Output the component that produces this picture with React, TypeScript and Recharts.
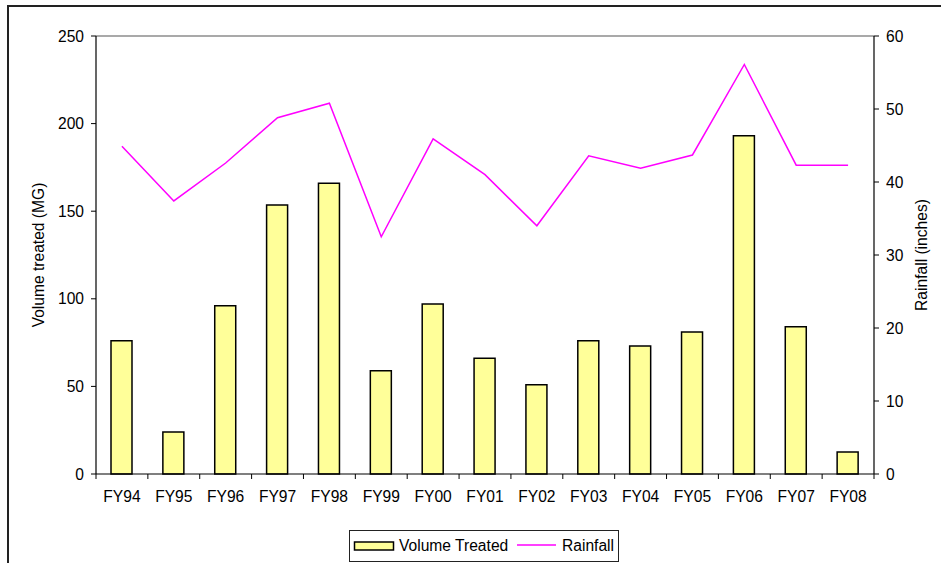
import React from 'react';
import { ComposedChart, Bar, Line, XAxis, YAxis, ReferenceLine } from 'recharts';

const categories = ['FY94', 'FY95', 'FY96', 'FY97', 'FY98', 'FY99', 'FY00', 'FY01', 'FY02', 'FY03', 'FY04', 'FY05', 'FY06', 'FY07', 'FY08'];
const volumeTreated = [76, 24, 96, 153.5, 166, 59, 97, 66, 51, 76, 73, 81, 193, 84, 12.5];
const rainfall = [44.9, 37.4, 42.6, 48.8, 50.8, 32.5, 45.9, 41, 34, 43.6, 41.9, 43.7, 56.1, 42.3, 42.3];
const leftTicks = [0, 50, 100, 150, 200, 250];
const rightTicks = [0, 10, 20, 30, 40, 50, 60];
const seriesNames = ['Volume Treated', 'Rainfall'];
const axisTitles = ['Volume treated (MG)', 'Rainfall (inches)'];

const data = categories.map((c, i) => ({ name: c, volume: volumeTreated[i], rain: rainfall[i] }));

const FONT = '"Liberation Sans", Arial, sans-serif';
const FS = 15.6;
const BAR_FILL = '#FFFF99';
const LINE_COLOR = '#FF00FF';

const XTick = (props: any) => {
  const { x, y, payload, index, width } = props;
  const half = payload && typeof payload.offset === 'number' && payload.offset > 0 ? payload.offset : width / (categories.length * 2);
  return (
    <g>
      <line x1={x - half} y1={y} x2={x - half} y2={y + 5} stroke="#000" strokeWidth={1} />
      {index === categories.length - 1 && (
        <line x1={x + half} y1={y} x2={x + half} y2={y + 5} stroke="#000" strokeWidth={1} />
      )}
      <text x={x} y={y + 28} textAnchor="middle" fontFamily={FONT} fontSize={FS} fill="#000">
        {payload.value}
      </text>
    </g>
  );
};

export default function App() {
  return (
    <div style={{ position: 'absolute', left: 0, top: 0, width: 941, height: 563, overflow: 'hidden', background: '#fff' }}>
      <div style={{ position: 'absolute', left: 7, top: 5, width: 1000, height: 700, borderLeft: '2px solid #222', borderTop: '2px solid #222' }} />
      <div style={{ position: 'absolute', left: 0, top: 0 }}>
        <ComposedChart width={941} height={563} data={data} margin={{ top: 36, right: 7, left: 36, bottom: 59 }}>
          <XAxis
            dataKey="name"
            xAxisId="x"
            height={30}
            interval={0}
            tickSize={0}
            tickMargin={0}
            tickLine={false}
            axisLine={{ stroke: '#000', strokeWidth: 1.2 }}
            tick={<XTick />}
          />
          <YAxis
            yAxisId="left"
            orientation="left"
            width={60}
            domain={[0, 250]}
            ticks={leftTicks}
            interval={0}
            tickSize={5}
            tickMargin={7}
            axisLine={{ stroke: '#000', strokeWidth: 1.2 }}
            tickLine={{ stroke: '#000' }}
            tick={{ fontFamily: FONT, fontSize: FS, fill: '#000' }}
            label={(p: any) => {
              const vb = p.viewBox || {};
              const cx = vb.x + 2;
              const cy = vb.y + vb.height / 2;
              return (
                <text x={cx} y={cy} transform={`rotate(-90 ${cx} ${cy})`} textAnchor="middle" dominantBaseline="central" fontFamily={FONT} fontSize={FS} fill="#000">
                  {axisTitles[0]}
                </text>
              );
            }}
          />
          <YAxis
            yAxisId="right"
            orientation="right"
            width={60}
            domain={[0, 60]}
            ticks={rightTicks}
            interval={0}
            tickSize={5}
            tickMargin={7}
            axisLine={{ stroke: '#000', strokeWidth: 1.2 }}
            tickLine={{ stroke: '#000' }}
            tick={{ fontFamily: FONT, fontSize: FS, fill: '#000' }}
            label={(p: any) => {
              const vb = p.viewBox || {};
              const cx = vb.x + 47;
              const cy = vb.y + vb.height / 2;
              return (
                <text x={cx} y={cy} transform={`rotate(-90 ${cx} ${cy})`} textAnchor="middle" dominantBaseline="central" fontFamily={FONT} fontSize={FS} fill="#000">
                  {axisTitles[1]}
                </text>
              );
            }}
          />
          <ReferenceLine yAxisId="left" xAxisId="x" y={250} stroke="#555" strokeWidth={1.2} />
          <Bar xAxisId="x" yAxisId="left" dataKey="volume" name={seriesNames[0]} fill={BAR_FILL} stroke="#000" strokeWidth={1.5} barSize={21} isAnimationActive={false} />
          <Line xAxisId="x" yAxisId="right" dataKey="rain" name={seriesNames[1]} type="linear" stroke={LINE_COLOR} strokeWidth={1.5} dot={false} activeDot={false} isAnimationActive={false} />
        </ComposedChart>
      </div>
      <div style={{ position: 'absolute', left: 349, top: 530, width: 270, height: 32, boxSizing: 'border-box', border: '1px solid #222', background: '#fff' }}>
        <svg width={268} height={30} style={{ display: 'block' }}>
          <rect x={4.5} y={11} width={39} height={8} fill={BAR_FILL} stroke="#000" strokeWidth={1.5} />
          <text x={49} y={20} fontFamily={FONT} fontSize={FS} fill="#000">{seriesNames[0]}</text>
          <line x1={167} y1={14} x2={206} y2={14} stroke={LINE_COLOR} strokeWidth={1.5} />
          <text x={212} y={20} fontFamily={FONT} fontSize={FS} fill="#000">{seriesNames[1]}</text>
        </svg>
      </div>
    </div>
  );
}
